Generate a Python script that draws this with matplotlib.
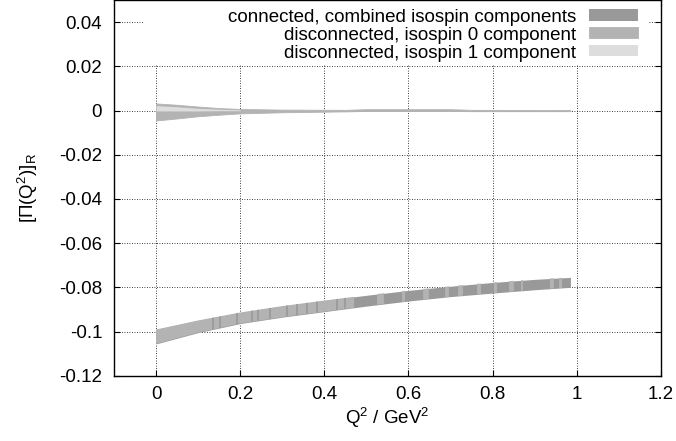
import numpy as np
import matplotlib
matplotlib.use("Agg")
from matplotlib import pyplot as plt
from matplotlib.patches import Rectangle

plt.rcParams['font.family'] = ['Liberation Sans', 'DejaVu Sans']
plt.rcParams['mathtext.default'] = 'regular'

# connected, combined isospin components (band)
q2_conn = [0.0, 0.1, 0.2, 0.3, 0.4, 0.5, 0.6, 0.7, 0.8, 0.9, 0.985]
conn_hi = [-0.0991, -0.0950, -0.0914, -0.0885, -0.0860, -0.0836, -0.0814, -0.0795, -0.0778, -0.0764, -0.0755]
conn_lo = [-0.1056, -0.1005, -0.0964, -0.0935, -0.0910, -0.0885, -0.0862, -0.0842, -0.0826, -0.0811, -0.0800]

# the connected band is made of many error bars in two shades of grey
light_part = (0.0, 0.47)
dark_stripes = [0.135, 0.152, 0.192, 0.228, 0.242, 0.271, 0.311, 0.335, 0.359, 0.383, 0.43, 0.45]
light_stripes = [(0.525, 0.54), (0.585, 0.59), (0.634, 0.646), (0.686, 0.693), (0.717, 0.727),
                 (0.762, 0.77), (0.803, 0.807), (0.84, 0.848), (0.867, 0.871), (0.936, 0.944),
                 (0.958, 0.962)]

# disconnected, isospin 0
q2_iso0 = [0.0, 0.05, 0.1, 0.15, 0.2, 0.3, 0.45, 0.5, 0.7, 0.75, 0.985]
iso0_hi = [0.0032, 0.0026, 0.0018, 0.0011, 0.0007, 0.0004, 0.0003, 0.0006, 0.0006, 0.0003, 0.0002]
iso0_lo = [-0.0045, -0.0036, -0.0026, -0.0019, -0.0013, -0.0008, -0.0004, -0.0002, -0.0002, -0.0003, -0.0003]

# disconnected, isospin 1
q2_iso1 = [0.0, 0.05, 0.1, 0.15, 0.2]
iso1_hi = [0.0022, 0.0017, 0.0010, 0.0006, 0.0003]
iso1_lo = [-0.0002, -0.0002, -0.0002, -0.0001, -0.0001]

labels = ['connected, combined isospin components',
          'disconnected, isospin 0 component',
          'disconnected, isospin 1 component']
colors = ['#999999', '#b3b3b3', '#dddddd']

FS = 13.5

fig = plt.figure(figsize=(6.76, 4.41), dpi=100)
ax = fig.add_axes([0.1686, 0.148, 0.809, 0.852])

band = ax.fill_between(q2_conn, conn_lo, conn_hi, color=colors[0], lw=0, label=labels[0],
                       zorder=2)
clip = band.get_paths()[0]
shade = [ax.axvspan(*light_part, color=colors[1], lw=0, zorder=2.1)]
for x in dark_stripes:
    shade.append(ax.axvline(x, color=colors[0], lw=1.2, zorder=2.2))
for a, b in light_stripes:
    shade.append(ax.axvspan(a, b, color=colors[1], lw=0.6, zorder=2.2))
for s in shade:
    s.set_clip_path(clip, ax.transData)

ax.fill_between(q2_iso0, iso0_lo, iso0_hi, color=colors[1], lw=0.6,
                edgecolor=colors[1], label=labels[1], zorder=2)
ax.fill_between(q2_iso1, iso1_lo, iso1_hi, color=colors[2], lw=0, label=labels[2], zorder=2.3)

ax.set_xlim(-0.1, 1.2)
ax.set_ylim(-0.12, 0.05)
ax.set_xticks([0, 0.2, 0.4, 0.6, 0.8, 1, 1.2])
ax.set_xticklabels(['0', '0.2', '0.4', '0.6', '0.8', '1', '1.2'])
ax.set_yticks([-0.12, -0.1, -0.08, -0.06, -0.04, -0.02, 0, 0.02, 0.04])
ax.set_yticklabels(['-0.12', '-0.1', '-0.08', '-0.06', '-0.04', '-0.02', '0', '0.02', '0.04'])
ax.tick_params(direction='in', top=True, right=True, labelsize=FS, length=4.5,
               width=0.8)
ax.tick_params(axis='x', pad=7.5)
ax.tick_params(axis='y', pad=8.5)
ax.grid(True, color='black', linestyle=(0, (1, 2)), linewidth=0.6)
ax.set_axisbelow(True)
for s in ax.spines.values():
    s.set_linewidth(1.0)
    s.set_zorder(5)

ax.set_xlabel('Q$^2$ / GeV$^2$', fontsize=FS, labelpad=2)
ax.set_ylabel('[\u03a0(Q$^2$)]$_R$', fontsize=FS, labelpad=14)

# opaque key box hides the grid behind it
ax.add_patch(Rectangle((0.053, 0.83), 0.923, 0.17, transform=ax.transAxes,
                       facecolor='white', edgecolor='none', zorder=1.5))

leg = ax.legend(loc='upper right', bbox_to_anchor=(0.958, 0.977), markerfirst=False,
                fontsize=FS, frameon=False, handlelength=2.6, handleheight=0.53,
                labelspacing=0.05, borderaxespad=0, borderpad=0, handletextpad=0.7)
for t in leg.get_texts():
    t.set_ha('right')
leg._legend_box.align = 'right'

fig.savefig('out.png', dpi=100)
